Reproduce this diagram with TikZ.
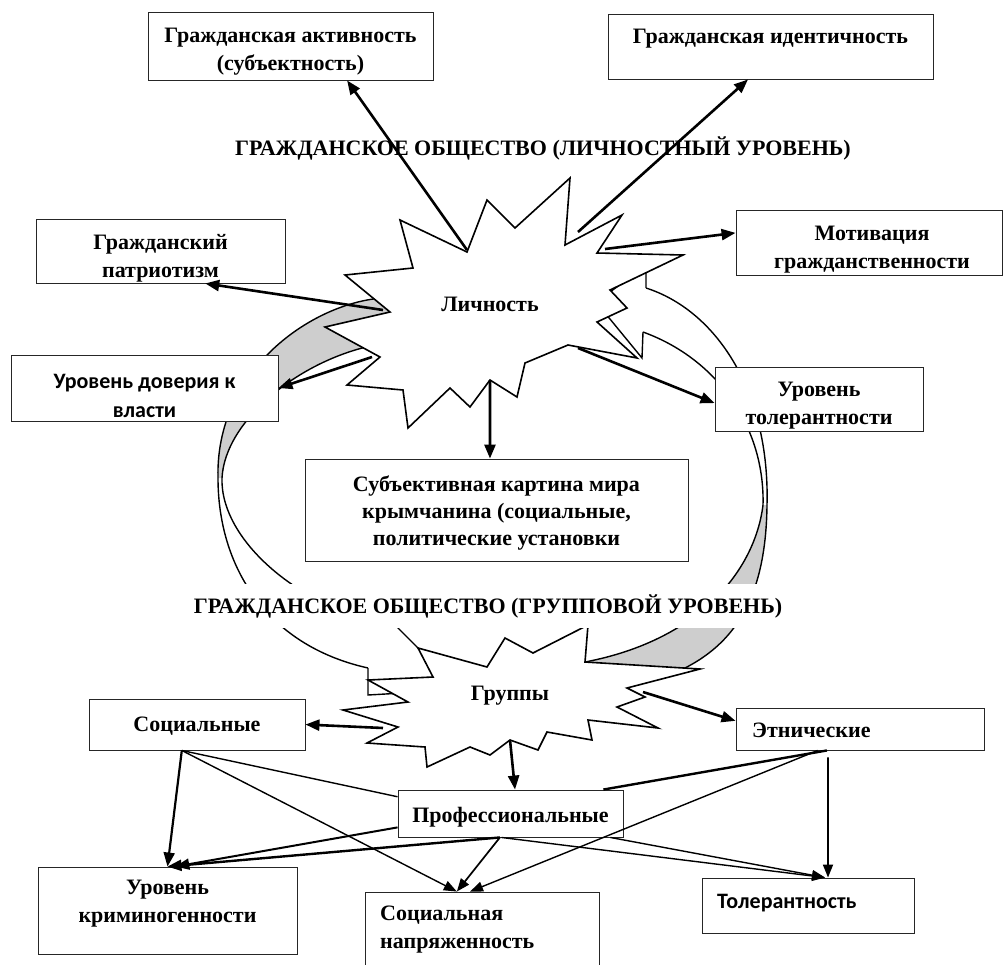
\documentclass[tikz,border=0pt]{standalone}
\usepackage{fontspec}
\setmainfont{Liberation Serif}
\newfontfamily\calib{Carlito}
\usetikzlibrary{arrows.meta,calc}
\definecolor{bandgray}{RGB}{206,206,206}
\newcommand\boxfont{\fontsize{22}{28}\selectfont\bfseries}
\newcommand\sansboxfont{\calib\fontsize{22}{29}\selectfont\bfseries}
\tikzset{
  box/.style={draw=black!85, line width=0.9pt, fill=white, inner sep=0pt},
  lbl/.style={inner sep=0pt, font=\boxfont, align=center},
  starshape/.style={draw=black, fill=white, line width=1.6pt, line join=miter, miter limit=30},
  bandline/.style={draw=black, line width=1.4pt},
  heavy/.style={line width=2.6pt, -{Triangle[length=14pt,width=11pt]}},
  light/.style={line width=1.4pt, -{Triangle[length=13pt,width=10pt]}},
  plainline/.style={line width=1.4pt},
  thickline/.style={line width=2.4pt},
}
\begin{document}
\begin{tikzpicture}[x=1pt,y=-1pt]
\useasboundingbox (0,0) rectangle (1003,964);

% ---------- curved band arrows (drawn first, under the stars) ----------
% left band: from the personal level down to the group level
\fill[bandgray] (400,298) .. controls (330,292) and (215,360) .. (218,478)
  -- (222,478) .. controls (225,420) and (300,360) .. (375,345) -- cycle;
\draw[bandline] (400,298) .. controls (330,292) and (215,360) .. (218,478)
  .. controls (218,565) and (265,645) .. (368,668);
\draw[bandline] (375,345) .. controls (300,360) and (225,420) .. (222,478)
  .. controls (220,540) and (300,610) .. (397,627) -- (418,648);
\draw[bandline, fill=white, line join=miter] (368,668) -- (368,695) -- (455,690) -- (418,648);

% right band: from the group level back up to the personal level
\fill[bandgray] (767,505) .. controls (766,590) and (740,640) .. (685,668)
  -- (590,669) -- (585,662) .. controls (700,640) and (755,570) .. (763,505) -- cycle;
\draw[bandline] (646,288) .. controls (715,310) and (770,390) .. (767,505)
  .. controls (766,590) and (740,640) .. (685,668) -- (590,669);
\draw[bandline] (643,332) .. controls (720,360) and (765,430) .. (763,505)
  .. controls (755,570) and (700,640) .. (585,662);
\draw[bandline, fill=white, line join=miter] (646,288) -- (646,266) -- (596,302) -- (642,358) -- (643,332);

% ---------- explosion shapes ----------
\draw[starshape] (400,220) -- (467,252) -- (487,200) -- (515,228) -- (570,178)
  -- (565,245) -- (622,215) -- (597,253) -- (683,255) -- (610,290) -- (627,308)
  -- (597,322) -- (637,358) -- (568,345) -- (525,363) -- (517,397) -- (490,380)
  -- (470,407) -- (450,388) -- (408,428) -- (403,390) -- (347,385) -- (380,357)
  -- (325,327) -- (390,312) -- (345,275) -- (413,268) -- cycle;
\node[lbl] (lichnost) at (490,304) {Личность};

\draw[starshape] (418,648) -- (487,667) -- (505,638) -- (533,653) -- (588,625)
  -- (585,662) -- (700,669) -- (627,688) -- (645,697) -- (617,707) -- (658,728)
  -- (588,720) -- (592,740) -- (547,732) -- (538,750) -- (510,740) -- (490,755)
  -- (470,747) -- (427,767) -- (425,747) -- (367,743) -- (398,727) -- (343,710)
  -- (408,702) -- (368,680) -- (433,677) -- cycle;
\node[lbl] (gruppy) at (510,696) {Группы};

% ---------- level titles ----------
\node[lbl] (title1) at (543,148) {ГРАЖДАНСКОЕ ОБЩЕСТВО (ЛИЧНОСТНЫЙ УРОВЕНЬ)};
\node[lbl, fill=white, minimum height=44pt, inner xsep=2pt] (title2) at (488,606)
  {ГРАЖДАНСКОЕ ОБЩЕСТВО (ГРУППОВОЙ УРОВЕНЬ)};

% ---------- boxes and their texts ----------
\node[box, minimum width=285pt, minimum height=68pt] (b1) at (290.5,46) {};
\node[lbl] (t1) at (290.5,51.5) {Гражданская активность\\(субъектность)};
\node[box, minimum width=325pt, minimum height=65pt] (b2) at (770.5,46.5) {};
\node[lbl] (t2) at (770.5,39) {Гражданская идентичность};
\node[box, minimum width=249pt, minimum height=64pt] (b3) at (160.5,251) {};
\node[lbl] (t3) at (160.5,258) {Гражданский\\патриотизм};
\node[box, minimum width=266pt, minimum height=65pt] (b4) at (869,242.5) {};
\node[lbl] (t4) at (872,250) {Мотивация\\гражданственности};
\node[box, minimum width=267pt, minimum height=66pt] (b5) at (144.5,388) {};
\node[lbl, font=\sansboxfont] (t5) at (144.5,396) {Уровень доверия к\\власти};
\node[box, minimum width=208pt, minimum height=64pt] (b6) at (819,399) {};
\node[lbl] (t6) at (819,405.5) {Уровень\\толерантности};
\node[box, minimum width=383pt, minimum height=102pt] (b7) at (496.5,510) {};
\node[lbl, font=\fontsize{22}{27}\selectfont\bfseries] (t7) at (496.5,512.5)
  {Субъективная картина мира\\крымчанина (социальные,\\политические установки};
\node[box, minimum width=216pt, minimum height=51pt] (b8) at (197,724.5) {};
\node[lbl] (t8) at (197,726) {Социальные};
\node[box, minimum width=248pt, minimum height=42pt] (b9) at (860,729) {};
\node[lbl, anchor=base west] (t9) at (752,737) {Этнические};
\node[box, minimum width=225pt, minimum height=47pt] (b10) at (510.5,813.5) {};
\node[lbl] (t10) at (510.5,817) {Профессиональные};
\node[box, minimum width=259pt, minimum height=87pt] (b11) at (167.5,910.5) {};
\node[lbl] (t11) at (167.5,904) {Уровень\\криминогенности};
\node[box, minimum width=234pt, minimum height=78pt] (b12) at (482,931) {};
\node[lbl, align=left, anchor=north west] (t12) at (380,906) {Социальная\\напряженность};
\node[box, minimum width=212pt, minimum height=55pt] (b13) at (808,905.5) {};
\node[lbl, font=\sansboxfont, anchor=base west] (t13) at (717,908) {Толерантность};

% ---------- connectors from the personality ----------
\coordinate (pa) at (467,250);
\coordinate (pb) at (578,232);
\coordinate (pc) at (605,249);
\coordinate (pd) at (383,310);
\coordinate (pe) at (372,357);
\coordinate (pf) at (578,348);
\coordinate (pg) at (490,380);
\draw[heavy] (pa) -- ($(b1.south west)!.698!(b1.south east)$);
\draw[heavy] (pb) -- ($(b2.south west)!.431!(b2.south east)$);
\draw[heavy] (pc) -- ($(b4.north west)!.354!(b4.south west)$);
\draw[heavy] (pd) -- ($(b3.south west)!.679!(b3.south east)$);
\draw[heavy] (pe) -- (b5.east);
\draw[heavy] (pf) -- ($(b6.north west)!.5625!(b6.south west)$);
\draw[heavy] (pg) -- ($(b7.north west)!.483!(b7.north east)$);

% ---------- connectors from the groups ----------
\coordinate (qh) at (383,728);
\coordinate (qi) at (643,692);
\coordinate (qj) at (510,740);
\draw[heavy] (qh) -- (b8.east);
\draw[heavy] (qi) -- ($(b9.north west)!.31!(b9.south west)$);
\draw[heavy] (qj) -- ($(b10.north west)!.52!(b10.north east)$);

% ---------- links between groups and outcomes ----------
\draw[heavy, line width=2.2pt] ($(b8.south west)!.43!(b8.south east)$) -- (b11.north);
\draw[plainline] ($(b8.south west)!.43!(b8.south east)$) -- ($(b10.north west)!.15!(b10.south west)$);
\draw[light] ($(b8.south west)!.43!(b8.south east)$) -- ($(b12.north west)!.393!(b12.north east)$);

\draw[heavy, line width=2pt] ($(b10.north west)!.79!(b10.south west)$) -- ($(b11.north west)!.53!(b11.north east)$);
\draw[heavy, line width=2.4pt] ($(b10.south west)!.453!(b10.south east)$) -- (b11.north);
\draw[light, line width=1.7pt] ($(b10.south west)!.453!(b10.south east)$) -- ($(b12.north west)!.393!(b12.north east)$);
\draw[light] ($(b10.south west)!.46!(b10.south east)$) -- ($(b13.north west)!.58!(b13.north east)$);
\draw[light] ($(b10.south west)!.942!(b10.south east)$) -- ($(b13.north west)!.58!(b13.north east)$);

\draw[thickline] ($(b9.south west)!.367!(b9.south east)$) -- ($(b10.north west)!.911!(b10.north east)$);
\draw[light] ($(b9.south west)!.33!(b9.south east)$) -- ($(b12.north west)!.449!(b12.north east)$);
\draw[light, line width=1.8pt, shorten <=7pt] ($(b9.south west)!.371!(b9.south east)$) -- ($(b13.north west)!.594!(b13.north east)$);
\end{tikzpicture}
\end{document}
